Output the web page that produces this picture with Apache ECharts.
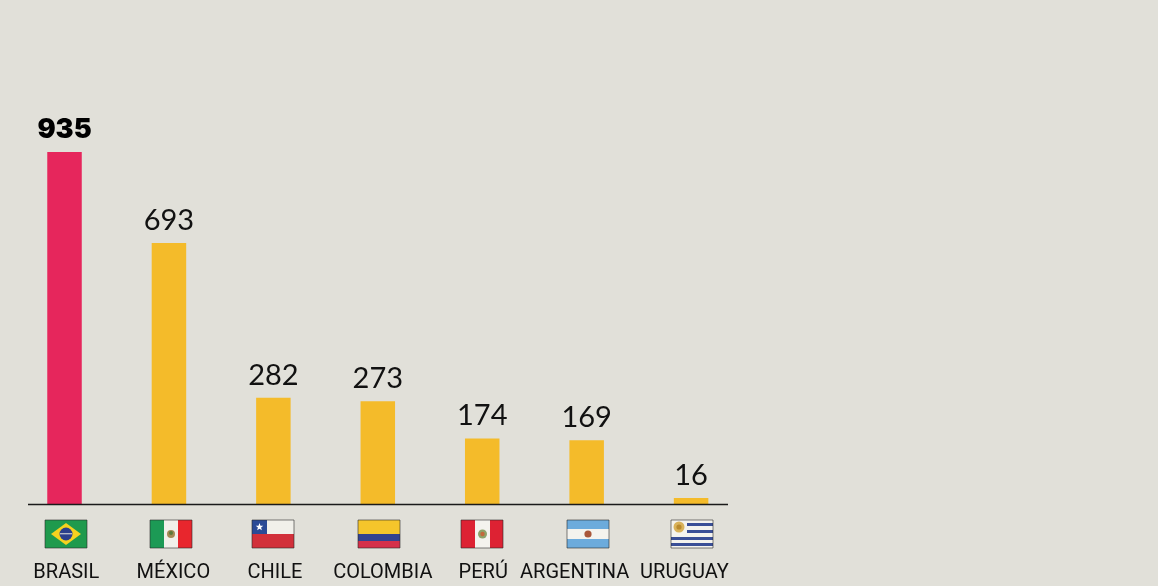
<!DOCTYPE html>
<html><head><meta charset="utf-8">
<style>html,body{margin:0;padding:0;background:#e1e0d9}#c{width:1158px;height:586px}</style>
<script src="https://cdn.jsdelivr.net/npm/echarts@6/dist/echarts.min.js"></script>
</head><body><div id="c"></div>
<script>
const categories = ['BRASIL','MÉXICO','CHILE','COLOMBIA','PERÚ','ARGENTINA','URUGUAY'];
const values = [935,693,282,273,174,169,16];
const labelShifts = [1.8,4.4,1.5,5,1,-12,-6.6];
const flagShifts = [1,2,0,1,0,1,1];
const PINK='#e6265c', YELLOW='#f4bb2a', INK='#111111';

function R(x,y,w,h,fill){return {type:'rect',shape:{x,y,width:w,height:h},style:{fill}};}
function C(x,y,r,fill){return {type:'circle',shape:{cx:x,cy:y,r},style:{fill}};}
function P(pts,fill){return {type:'polygon',shape:{points:pts},style:{fill}};}
function star(cx,cy,r,fill){const p=[];for(let i=0;i<10;i++){const a=-Math.PI/2+i*Math.PI/5,q=i%2?r*0.42:r;p.push([cx+q*Math.cos(a),cy+q*Math.sin(a)]);}return P(p,fill);}
const W=42,H=28;
const flags=[
 ()=>[R(0,0,W,H,'#1f9a4d'),P([[21,3],[36,14],[21,25],[6,14]],'#f6d21f'),C(21,14,6.5,'#2b3f8c'),R(15,13.2,12,1.1,'#d8d8d8')],
 ()=>[R(0,0,14,H,'#1c9a55'),R(14,0,14,H,'#f1f0ea'),R(28,0,14,H,'#e8262d'),C(21,14,4,'#a58a55'),C(21,13,2,'#5b7a3c')],
 ()=>[R(0,0,W,14,'#f1f0ea'),R(0,14,W,14,'#d2303a'),R(0,0,15,14,'#2a4a96'),star(7.5,7,4,'#ffffff')],
 ()=>[R(0,0,W,14,'#f5c52b'),R(0,14,W,7,'#33428f'),R(0,21,W,7,'#d5304a')],
 ()=>[R(0,0,14,H,'#dd2233'),R(14,0,15,H,'#f4f3ee'),R(29,0,13,H,'#dd2233'),C(21.5,14,4.5,'#8ea26a'),C(21.5,14,2.2,'#c4683b')],
 ()=>[R(0,0,W,9,'#6cabdc'),R(0,9,W,10,'#f4f3ee'),R(0,19,W,9,'#6cabdc'),C(21,14,3.6,'#a9573a')],
 ()=>[R(0,0,W,H,'#f4f3ee'),R(16,3,26,3,'#3a4f97'),R(16,10,26,3,'#3a4f97'),R(0,17,W,3,'#3a4f97'),R(0,23,W,3,'#3a4f97'),C(8,7,5.5,'#d9b25a'),C(8,7,2.6,'#b98a2e')]
];
const border=()=>({type:'rect',shape:{x:0,y:0,width:W,height:H},style:{fill:null,stroke:'#2a2a2a',lineWidth:0.6}});
const rich={};
categories.forEach((c,i)=>{const s=labelShifts[i];rich['c'+i]={fontFamily:'Roboto',fontSize:20,color:INK,padding:s>=0?[0,0,0,2*s]:[0,-2*s,0,0]};});

const chart=echarts.init(document.getElementById('c'));
chart.setOption({
 animation:false,backgroundColor:'#e1e0d9',
 grid:{left:12.3,width:731,top:127.5,height:376.5},
 xAxis:{type:'category',data:categories,axisLine:{show:false},axisTick:{show:false},
  axisLabel:{interval:0,margin:59,hideOverlap:false,formatter:(v)=>{const i=categories.indexOf(v);return '{c'+i+'|'+v+'}';},rich}},
 yAxis:{type:'value',min:0,max:1000,show:false,splitLine:{show:false}},
 graphic:[{type:'line',z:100,shape:{x1:28,y1:504.5,x2:728,y2:504.5},style:{stroke:'#1a1a1a',lineWidth:1.5}}],
 series:[
  {type:'bar',barWidth:34.5,data:values.map((v,i)=>({value:v,
    itemStyle:{color:i===0?PINK:YELLOW},
    label:i===0?{fontWeight:900,fontFamily:'Inter',fontSize:27,color:'#000',distance:9}:{}})),
   label:{show:true,position:'top',distance:8,fontFamily:'Lato',fontWeight:400,fontSize:29,color:INK}},
  {type:'custom',silent:true,clip:false,data:categories.map((c,i)=>[i,0]),encode:{x:0,y:1},
   renderItem:(p,api)=>{const i=api.value(0),pt=api.coord([i,0]);
    return {type:'group',x:Math.round(pt[0]-21+flagShifts[i]),y:pt[1]+16,children:flags[i]().concat([border()])};}}
 ]
});
</script></body></html>
